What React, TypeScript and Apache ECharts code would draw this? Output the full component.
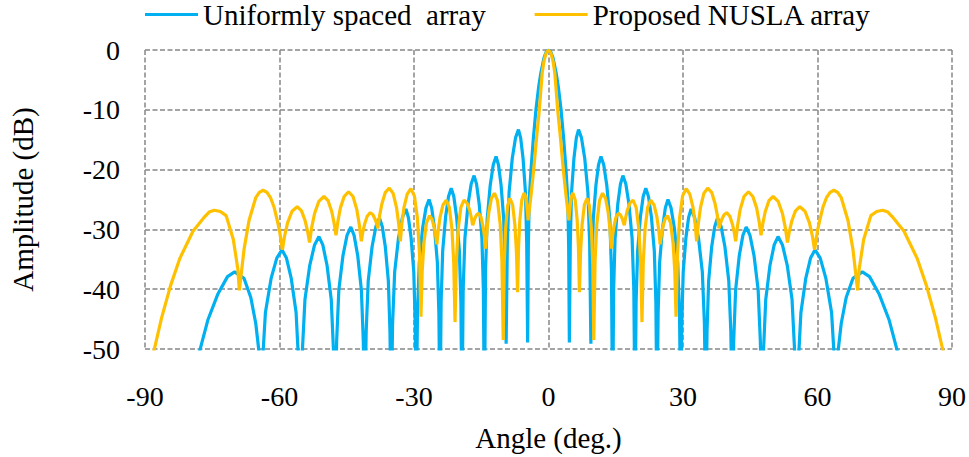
import React, { useEffect, useRef } from "react";
import * as echarts from "echarts";

// Array factor of the 24-element uniformly spaced array, [angle (deg), amplitude (dB)]
const uniformLeft: [number, number][] = [
  [-79, -54], [-77.8, -50.3], [-76.0, -45.2], [-73.8, -40.9], [-71.6, -37.9], [-70.0, -37.1], [-67.9, -38.2], [-66.4, -41.4], [-65.3, -45.7], [-64.6, -50.3], [-64.3, -62],
  [-63.81, -52.4], [-63.14, -43.9], [-61.87, -38.2], [-60.61, -34.8], [-59.45, -33.4], [-58.45, -34.8], [-57.38, -38.2], [-56.3, -43.9], [-55.72, -52.4], [-55.3, -62],
  [-54.89, -50.2], [-54.32, -41.7], [-53.25, -36.0], [-52.18, -32.6], [-51.2, -31.2], [-50.34, -32.6], [-49.4, -36.0], [-48.46, -41.7], [-47.96, -50.2], [-47.6, -62],
  [-47.25, -48.6], [-46.76, -40.1], [-45.85, -34.4], [-44.94, -31.0], [-44.1, -29.6], [-43.36, -31.0], [-42.55, -34.4], [-41.74, -40.1], [-41.31, -48.6], [-41.0, -62],
  [-40.67, -47.1], [-40.21, -38.6], [-39.35, -32.9], [-38.49, -29.5], [-37.7, -28.1], [-37.08, -29.5], [-36.4, -32.9], [-35.72, -38.6], [-35.36, -47.1], [-35.1, -62],
  [-34.77, -45.6], [-34.31, -37.1], [-33.45, -31.4], [-32.59, -28.0], [-31.8, -26.6], [-31.25, -28.0], [-30.65, -31.4], [-30.05, -37.1], [-29.73, -45.6], [-29.5, -62],
  [-29.22, -44], [-28.82, -35.5], [-28.08, -29.8], [-27.33, -26.4], [-26.65, -25.0], [-26.06, -26.4], [-25.43, -29.8], [-24.79, -35.5], [-24.45, -44], [-24.2, -62],
  [-23.95, -42.1], [-23.6, -33.6], [-22.95, -27.9], [-22.3, -24.5], [-21.7, -23.1], [-21.12, -24.5], [-20.5, -27.9], [-19.88, -33.6], [-19.54, -42.1], [-19.3, -62],
  [-19.03, -40], [-18.65, -31.5], [-17.95, -25.8], [-17.25, -22.4], [-16.6, -21.0], [-16.05, -22.4], [-15.45, -25.8], [-14.85, -31.5], [-14.53, -40], [-14.3, -62],
  [-14.04, -36.8], [-13.68, -28.3], [-13.0, -22.6], [-12.32, -19.2], [-11.7, -17.8], [-11.16, -19.2], [-10.58, -22.6], [-9.99, -28.3], [-9.68, -36.8], [-9.45, -49.1],
  [-9.18, -32.3], [-8.79, -23.8], [-8.08, -18.1], [-7.36, -14.7], [-6.7, -13.3], [-6.21, -14.7], [-5.68, -18.1], [-5.14, -23.8], [-4.86, -32.3], [-4.65, -48.9],
  [-4.5, -33], [-4.3, -25], [-3.9, -20], [-3.4, -15], [-2.8, -10], [-2.2, -6.2], [-1.7, -3.8], [-1.0, -1.3], [-0.5, -0.3],
];

const uniformRight: [number, number][] = [
  [0, 0], [0.5, -0.3], [1.0, -1.3], [1.7, -3.8], [2.2, -6.2], [2.8, -10], [3.4, -15], [3.9, -20], [4.3, -25], [4.5, -33], [4.65, -48.9],
  [4.86, -32.3], [5.14, -23.8], [5.68, -18.1], [6.21, -14.7], [6.7, -13.3], [7.36, -14.7], [8.08, -18.1], [8.79, -23.8], [9.18, -32.3], [9.45, -49.1],
  [9.68, -36.8], [9.99, -28.3], [10.58, -22.6], [11.16, -19.2], [11.7, -17.8], [12.32, -19.2], [13.0, -22.6], [13.68, -28.3], [14.04, -36.8], [14.3, -62],
  [14.53, -40], [14.85, -31.5], [15.45, -25.8], [16.05, -22.4], [16.6, -21.0], [17.25, -22.4], [17.95, -25.8], [18.65, -31.5], [19.03, -40], [19.3, -62],
  [19.54, -42.1], [19.88, -33.6], [20.5, -27.9], [21.12, -24.5], [21.7, -23.1], [22.3, -24.5], [22.95, -27.9], [23.6, -33.6], [23.95, -42.1], [24.2, -62],
  [24.45, -44], [24.79, -35.5], [25.43, -29.8], [26.06, -26.4], [26.65, -25.0], [27.33, -26.4], [28.08, -29.8], [28.82, -35.5], [29.22, -44], [29.5, -62],
  [29.73, -45.6], [30.05, -37.1], [30.65, -31.4], [31.25, -28.0], [31.8, -26.6], [32.59, -28.0], [33.45, -31.4], [34.31, -37.1], [34.77, -45.6], [35.1, -62],
  [35.36, -47.1], [35.72, -38.6], [36.4, -32.9], [37.08, -29.5], [37.7, -28.1], [38.49, -29.5], [39.35, -32.9], [40.21, -38.6], [40.67, -47.1], [41.0, -62],
  [41.31, -48.6], [41.74, -40.1], [42.55, -34.4], [43.36, -31.0], [44.1, -29.6], [44.94, -31.0], [45.85, -34.4], [46.76, -40.1], [47.25, -48.6], [47.6, -62],
  [47.96, -50.2], [48.46, -41.7], [49.4, -36.0], [50.34, -32.6], [51.2, -31.2], [52.18, -32.6], [53.25, -36.0], [54.32, -41.7], [54.89, -50.2], [55.3, -62],
  [55.72, -52.4], [56.3, -43.9], [57.38, -38.2], [58.45, -34.8], [59.45, -33.4], [60.61, -34.8], [61.87, -38.2], [63.14, -43.9], [63.81, -52.4], [64.3, -62],
  [64.6, -50.3], [65.3, -45.7], [66.4, -41.4], [67.9, -38.2], [70.0, -37.1], [71.6, -37.9], [73.8, -40.9], [76.0, -45.2], [77.8, -50.3], [79, -54],
];

// Pattern of the proposed non-uniformly spaced linear array, [angle (deg), amplitude (dB)]
const nuslaLeft: [number, number][] = [
  [-88.6, -53], [-88.0, -50.3], [-86.3, -44.8], [-84.3, -39.4], [-82.2, -34.8], [-79.3, -30.3], [-76.7, -27.9], [-75.7, -27.1], [-74.55, -26.8], [-73.2, -27.0], [-71.9, -27.7], [-70.3, -31.7], [-69.3, -36.6],
  [-68.95, -40.2], [-67.9, -33.3], [-66.8, -28.5], [-65.3, -24.7], [-64.5, -23.8], [-63.65, -23.45], [-62.8, -23.8], [-62.0, -24.7], [-61.2, -26.3], [-60.5, -28.5], [-60.0, -30.2],
  [-59.35, -33.4], [-58.86, -31.1], [-58.2, -28.9], [-57.21, -26.96], [-56.05, -26.2], [-55.09, -26.9], [-54.26, -28.6], [-53.71, -30.4],
  [-53.3, -32.2], [-52.82, -29.7], [-52.18, -27.35], [-51.22, -25.3], [-50.1, -24.5], [-49.16, -25.2], [-48.35, -27.0], [-47.81, -29.0],
  [-47.4, -31.0], [-46.98, -28.7], [-46.42, -26.4], [-45.58, -24.5], [-44.6, -23.7], [-43.6, -24.5], [-42.75, -26.7], [-42.18, -29.3],
  [-41.75, -32.0], [-41.45, -30.6], [-41.05, -29.2], [-40.45, -27.8], [-39.75, -27.2], [-39.16, -27.55], [-38.65, -28.35], [-38.31, -29.1],
  [-38.05, -29.8], [-37.67, -27.7], [-37.16, -25.7], [-36.39, -23.8], [-35.5, -23.1], [-34.64, -24.0], [-33.91, -26.3], [-33.42, -29.0],
  [-33.05, -32.0], [-32.7, -29.05], [-32.23, -26.3], [-31.52, -24.1], [-30.7, -23.2], [-29.91, -24.4], [-29.24, -28.1], [-28.79, -33.9],
  [-28.45, -44.6], [-28.17, -37.0], [-27.79, -32.3], [-27.22, -28.9], [-26.55, -27.7], [-25.97, -28.3], [-25.48, -29.7], [-25.15, -31.1],
  [-24.9, -32.5], [-24.59, -30.1], [-24.17, -27.9], [-23.54, -25.9], [-22.8, -25.1], [-22.12, -26.3], [-21.53, -30.0], [-21.14, -35.5],
  [-20.85, -45.5], [-20.55, -35.5], [-20.15, -30.0], [-19.55, -26.3], [-18.85, -25.1], [-18.17, -25.6], [-17.58, -26.8], [-17.19, -28.1],
  [-16.9, -29.3], [-16.7, -28.8], [-16.45, -28.2], [-16.06, -27.6], [-15.6, -27.3], [-15.04, -28.0], [-14.56, -29.7], [-14.24, -31.4],
  [-14.0, -33.2], [-13.71, -30.05], [-13.32, -27.2], [-12.73, -24.8], [-12.05, -23.95], [-11.37, -25.2], [-10.78, -29.1], [-10.39, -35.2],
  [-10.1, -48.5], [-9.88, -35.9], [-9.58, -30.0], [-9.13, -26.1], [-8.6, -24.8], [-8.0, -25.9], [-7.5, -29.2], [-7.16, -33.6],
  [-6.9, -40.5], [-6.68, -33.0], [-6.39, -28.4], [-5.96, -25.1], [-5.45, -23.9], [-5.14, -24.45], [-4.87, -25.8], [-4.69, -27.2],
  [-4.55, -28.5], [-3.9, -24.3], [-3.3, -20], [-2.7, -15], [-2.05, -10], [-1.4, -3.8], [-1.0, -1.8], [-0.5, -0.45],
];

const nuslaRight: [number, number][] = [
  [0, 0], [0.5, -0.45], [1.0, -1.8], [1.4, -3.8], [2.05, -10], [2.7, -15], [3.3, -20], [3.9, -24.3], [4.55, -28.5],
  [4.69, -27.2], [4.87, -25.8], [5.14, -24.45], [5.45, -23.9], [5.96, -25.1], [6.39, -28.4], [6.68, -33.0], [6.9, -40.5],
  [7.16, -33.6], [7.5, -29.2], [8.0, -25.9], [8.6, -24.8], [9.13, -26.1], [9.58, -30.0], [9.88, -35.9], [10.1, -48.5],
  [10.39, -35.2], [10.78, -29.1], [11.37, -25.2], [12.05, -23.95], [12.73, -24.8], [13.32, -27.2], [13.71, -30.05], [14.0, -33.2],
  [14.24, -31.4], [14.56, -29.7], [15.04, -28.0], [15.6, -27.3], [16.06, -27.6], [16.45, -28.2], [16.7, -28.8], [16.9, -29.3],
  [17.19, -28.1], [17.58, -26.8], [18.17, -25.6], [18.85, -25.1], [19.55, -26.3], [20.15, -30.0], [20.55, -35.5], [20.85, -45.5],
  [21.14, -35.5], [21.53, -30.0], [22.12, -26.3], [22.8, -25.1], [23.54, -25.9], [24.17, -27.9], [24.59, -30.1], [24.9, -32.5],
  [25.15, -31.1], [25.48, -29.7], [25.97, -28.3], [26.55, -27.7], [27.22, -28.9], [27.79, -32.3], [28.17, -37.0], [28.45, -44.6],
  [28.79, -33.9], [29.24, -28.1], [29.91, -24.4], [30.7, -23.2], [31.52, -24.1], [32.23, -26.3], [32.7, -29.05], [33.05, -32.0],
  [33.42, -29.0], [33.91, -26.3], [34.64, -24.0], [35.5, -23.1], [36.39, -23.8], [37.16, -25.7], [37.67, -27.7], [38.05, -29.8],
  [38.31, -29.1], [38.65, -28.35], [39.16, -27.55], [39.75, -27.2], [40.45, -27.8], [41.05, -29.2], [41.45, -30.6], [41.75, -32.0],
  [42.18, -29.3], [42.75, -26.7], [43.6, -24.5], [44.6, -23.7], [45.58, -24.5], [46.42, -26.4], [46.98, -28.7], [47.4, -31.0],
  [47.81, -29.0], [48.35, -27.0], [49.16, -25.2], [50.1, -24.5], [51.22, -25.3], [52.18, -27.35], [52.82, -29.7], [53.3, -32.2],
  [53.71, -30.4], [54.26, -28.6], [55.09, -26.9], [56.05, -26.2], [57.21, -26.96], [58.2, -28.9], [58.86, -31.1], [59.35, -33.4],
  [60.0, -30.2], [60.5, -28.5], [61.2, -26.3], [62.0, -24.7], [62.8, -23.8], [63.65, -23.45], [64.5, -23.8], [65.3, -24.7], [66.8, -28.5], [67.9, -33.3], [68.95, -40.2],
  [69.3, -36.6], [70.3, -31.7], [71.9, -27.7], [73.2, -27.0], [74.55, -26.8], [75.7, -27.1], [76.7, -27.9], [79.3, -30.3], [82.2, -34.8], [84.3, -39.4], [86.3, -44.8], [88.0, -50.3], [88.6, -53],
];

const seriesNames = ["Uniformly spaced  array", "Proposed NUSLA array"];
const seriesColors = ["#00B0F0", "#FFC000"];

const angleRange = { min: -90, max: 90, step: 30 };
const amplitudeRange = { min: -50, max: 0, step: 10 };

const FONT = "'Liberation Serif', 'Times New Roman', serif";

export default function App() {
  const ref = useRef<HTMLDivElement>(null);

  useEffect(() => {
    if (!ref.current) return;
    const chart = echarts.init(ref.current, undefined, { renderer: "svg" });
    const gridLine = {
      show: true,
      lineStyle: { color: "#878787", width: 1.5, type: [5, 2.5] as number[] },
    };
    chart.setOption({
      animation: false,
      backgroundColor: "#ffffff",
      legend: {
        data: seriesNames,
        left: 145,
        top: 0,
        padding: 0,
        itemWidth: 53,
        itemHeight: 3,
        itemGap: 49,
        icon: "rect",
        textStyle: { fontFamily: FONT, fontSize: 29, color: "#000" },
      },
      grid: { left: 138, right: 16, top: 50, bottom: 97 },
      xAxis: {
        type: "value",
        min: angleRange.min,
        max: angleRange.max,
        interval: angleRange.step,
        name: "Angle (deg.)",
        nameLocation: "middle",
        nameGap: 74,
        nameTextStyle: { fontFamily: FONT, fontSize: 29, color: "#000" },
        axisLine: { show: false },
        axisTick: { show: false },
        axisLabel: { fontFamily: FONT, fontSize: 28, color: "#000", margin: 33 },
        splitLine: gridLine,
      },
      yAxis: {
        type: "value",
        min: amplitudeRange.min,
        max: amplitudeRange.max,
        interval: amplitudeRange.step,
        name: "Amplitude (dB)",
        nameLocation: "middle",
        nameGap: 108,
        nameTextStyle: { fontFamily: FONT, fontSize: 29, color: "#000" },
        axisLine: { show: false },
        axisTick: { show: false },
        axisLabel: { fontFamily: FONT, fontSize: 28, color: "#000", margin: 25 },
        splitLine: gridLine,
      },
      series: [
        {
          name: seriesNames[0],
          type: "line",
          data: [...uniformLeft, ...uniformRight],
          showSymbol: false,
          clip: true,
          lineStyle: { color: seriesColors[0], width: 3.2 },
          itemStyle: { color: seriesColors[0] },
        },
        {
          name: seriesNames[1],
          type: "line",
          data: [...nuslaLeft, ...nuslaRight],
          showSymbol: false,
          clip: true,
          lineStyle: { color: seriesColors[1], width: 3.2 },
          itemStyle: { color: seriesColors[1] },
        },
      ],
    });
    return () => chart.dispose();
  }, []);

  return (
    <div
      ref={ref}
      style={{ position: "fixed", left: 0, top: 0, width: 969, height: 457 }}
    />
  );
}
